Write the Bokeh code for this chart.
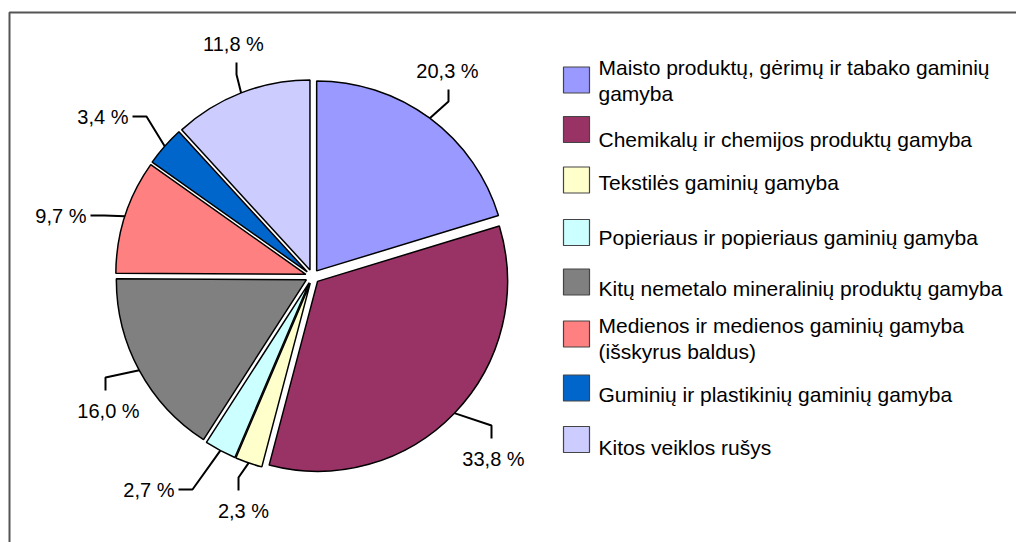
import math
from bokeh.plotting import figure
from bokeh.models import Range1d
from bokeh.core.properties import value
from bokeh.embed import file_html
from bokeh.resources import INLINE

# ---------------- data ----------------
categories = [
    "Maisto produktų, gėrimų ir tabako gaminių\ngamyba",
    "Chemikalų ir chemijos produktų gamyba",
    "Tekstilės gaminių gamyba",
    "Popieriaus ir popieriaus gaminių gamyba",
    "Kitų nemetalo mineralinių produktų gamyba",
    "Medienos ir medienos gaminių gamyba\n(išskyrus baldus)",
    "Guminių ir plastikinių gaminių gamyba",
    "Kitos veiklos rušys",
]
shares = [20.3, 33.8, 2.3, 2.7, 16.0, 9.7, 3.4, 11.8]
colors = ["#9999FF", "#993366", "#FFFFCC", "#CCFFFF",
          "#808080", "#FF8080", "#0066CC", "#CCCCFF"]

# ---------------- layout ----------------
W, H = 1016, 542
def Y(sy):       # screen y -> data y
    return H - sy

CX, CY = 312, 276      # pie centre (screen)
R = 190                # radius
EXPL = 7               # explosion offset

# label placement (screen), type and leader tweak
label_layout = [
    ("v-above", 447, 70, 1),
    ("v-below", 493, 458, -2),
    ("v-below", 243, 510, -5),
    ("h-left", 174, 489, 0),
    ("v-below", 108, 410, -3),
    ("h-left", 86, 215, 0),
    ("h-left", 128, 116, 0),
    ("v-above", 233, 43, 3),
]
legend_mid = [66.7, 138.7, 181.7, 236.7, 287.7, 324.7, 393.7, 446.7]
legend_line_gap = 26.5
legend_sq_centers = [79.5, 129, 179.5, 232, 281.5, 333.5, 387.5, 439]

FONT = "Liberation Sans"

p = figure(width=W, height=H, output_backend="svg", toolbar_location=None,
           x_range=Range1d(0, W), y_range=Range1d(0, H),
           min_border=0)
p.axis.visible = False
p.grid.visible = False
p.outline_line_color = None
p.background_fill_color = "white"
p.border_fill_color = "white"

# frame (top and left edges visible in the window)
p.line([9, 9, 1020], [Y(560), Y(12), Y(12)], line_color="#555555", line_width=2)

# ---------------- pie ----------------
total = sum(shares)
cum = 0.0
for i, v in enumerate(shares):
    a_start = math.radians(90 - cum / total * 360)
    cum += v
    a_end = math.radians(90 - cum / total * 360)
    mid = (a_start + a_end) / 2
    sx = CX + EXPL * math.cos(mid)
    sy = Y(CY) + EXPL * math.sin(mid)
    p.wedge(x=[sx], y=[sy], radius=R, start_angle=[a_end], end_angle=[a_start],
            direction="anticlock", fill_color=colors[i], line_color="black",
            line_width=1.5)

    # label & leader
    kind, lx, ly, dx = label_layout[i]
    ax = CX + (R + EXPL) * math.cos(mid)
    ay = Y(CY) + (R + EXPL) * math.sin(mid)
    txt = f"{v:.1f}".replace(".", ",") + " %"
    if kind == "v-above":
        ex, ey = lx + dx, Y(ly + 19)
        bx, by = lx + dx, Y(ly + 31)
        align = "center"
    elif kind == "v-below":
        ex, ey = lx + dx, Y(ly - 20)
        bx, by = lx + dx, Y(ly - 33)
        align = "center"
    else:
        ex, ey = lx + 4, Y(ly)
        bx, by = lx + 18, Y(ly)
        align = "right"
    p.text([lx], [Y(ly)], text=[txt], text_align=align, text_baseline="middle",
           text_font=value(FONT), text_font_size="20px", text_color="black")
    p.line([ex, bx, ax], [ey, by, ay], line_color="black", line_width=2)

# ---------------- legend ----------------
SQ_X0, SQ_X1 = 563, 589
for i, cat in enumerate(categories):
    c = legend_sq_centers[i]
    p.quad(left=[SQ_X0], right=[SQ_X1], top=[Y(c - 13)], bottom=[Y(c + 13)],
           fill_color=colors[i], line_color="#444444", line_width=1.2)
    for j, line in enumerate(cat.split("\n")):
        p.text([598], [Y(legend_mid[i] + legend_line_gap * j)], text=[line],
               text_align="left", text_baseline="middle",
               text_font=value(FONT), text_font_size="21px", text_color="black")

open("out.html", "w").write(file_html(p, INLINE))
